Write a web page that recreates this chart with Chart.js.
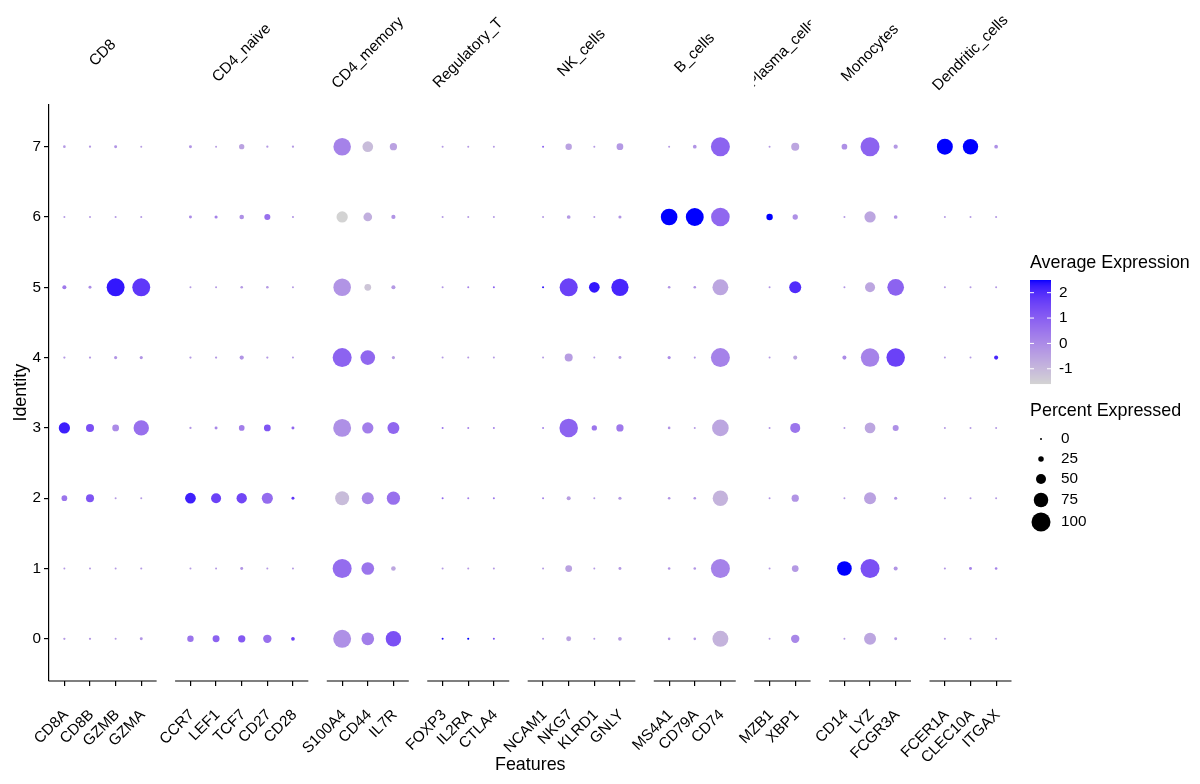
<!DOCTYPE html>
<html>
<head>
<meta charset="utf-8">
<script src="https://cdn.jsdelivr.net/npm/chart.js@4.4.1/dist/chart.umd.min.js"></script>
<style>
  html, body { margin: 0; padding: 0; background: #fff; }
  #wrap { width: 1200px; height: 784px; position: relative; }
</style>
</head>
<body>
<div id="wrap"><canvas id="dotplot"></canvas></div>
<script>
// ---- data ----
const groupNames = ["CD8", "CD4_naive", "CD4_memory", "Regulatory_T", "NK_cells", "B_cells", "Plasma_cells", "Monocytes", "Dendritic_cells"];
const groupSizes = [4, 5, 3, 3, 4, 3, 2, 3, 3];
const features = ["CD8A", "CD8B", "GZMB", "GZMA", "CCR7", "LEF1", "TCF7", "CD27", "CD28",
  "S100A4", "CD44", "IL7R", "FOXP3", "IL2RA", "CTLA4", "NCAM1", "NKG7", "KLRD1", "GNLY",
  "MS4A1", "CD79A", "CD74", "MZB1", "XBP1", "CD14", "LYZ", "FCGR3A", "FCER1A", "CLEC10A", "ITGAX"];
const identities = [0, 1, 2, 3, 4, 5, 6, 7];

// percent expressed, one array per identity (feature order as above)
const pctId0 = [7, 7, 5, 11, 30, 33, 35, 41, 15, 94, 65, 80, 5, 6, 5, 4, 22, 4, 15, 9, 9, 83, 4, 41, 5, 61, 11, 6, 5, 4];
const pctId1 = [4, 4, 5, 6, 5, 5, 11, 5, 5, 100, 65, 20, 3, 3, 3, 3, 32, 4, 11, 9, 9, 100, 4, 32, 76, 100, 17, 6, 11, 9];
const pctId2 = [26, 39, 5, 5, 54, 50, 52, 56, 11, 72, 61, 68, 5, 4, 5, 4, 17, 3, 12, 9, 9, 80, 4, 35, 4, 61, 12, 6, 5, 4];
const pctId3 = [57, 39, 32, 80, 7, 11, 26, 32, 11, 94, 57, 61, 4, 4, 4, 4, 97, 24, 35, 9, 5, 87, 5, 50, 5, 54, 28, 5, 5, 4];
const pctId4 = [7, 7, 12, 12, 7, 7, 18, 7, 4, 100, 76, 12, 3, 3, 3, 3, 39, 4, 11, 12, 6, 100, 4, 17, 17, 97, 97, 4, 4, 17];
const pctId5 = [17, 11, 94, 94, 5, 5, 9, 9, 5, 92, 32, 17, 3, 4, 5, 6, 95, 54, 90, 9, 9, 83, 5, 61, 4, 50, 87, 5, 5, 5];
const pctId6 = [4, 4, 6, 6, 11, 12, 20, 28, 6, 57, 43, 18, 3, 3, 3, 3, 15, 3, 12, 87, 94, 98, 30, 24, 5, 57, 15, 5, 4, 6];
const pctId7 = [9, 7, 11, 5, 11, 5, 24, 7, 7, 92, 54, 35, 4, 4, 4, 5, 30, 5, 32, 5, 15, 100, 5, 39, 26, 100, 18, 83, 80, 15];

// average (scaled) expression, one array per identity
const avgId0 = [-0.3, -0.3, -0.3, -0.2, 0.5, 0.9, 1.1, 0.6, 1.6, -0.1, 0.3, 1.3, 2.4, 2.5, 1.3, -0.2, -0.5, -0.3, -0.4, -0.2, -0.2, -0.9, -0.3, 0.1, -0.3, -0.6, -0.3, -0.3, -0.3, -0.3];
const avgId1 = [-0.3, -0.3, -0.3, -0.3, -0.3, -0.3, -0.2, -0.3, -0.3, 0.7, 0.5, -0.6, -0.3, -0.3, -0.3, -0.3, -0.5, -0.3, -0.3, -0.2, -0.2, 0.2, -0.3, -0.3, 2.5, 1.3, -0.2, -0.2, 0.2, 0.2];
const avgId2 = [0.5, 1.2, -0.3, -0.3, 2.2, 1.6, 1.5, 0.7, 1.8, -1.1, 0.1, 0.6, 0.8, 0.3, 0.5, 0.2, -0.4, -0.3, -0.3, -0.2, -0.2, -0.9, -0.2, -0.2, -0.3, -0.5, -0.2, -0.3, -0.3, -0.3];
const avgId3 = [2.2, 1.3, 0.0, 0.6, -0.2, 0.1, 0.3, 1.2, 0.8, -0.1, 0.3, 0.8, 0.5, 0.2, 0.2, 0.2, 0.9, 0.5, 0.4, -0.2, -0.3, -0.6, -0.2, 0.5, -0.3, -0.6, -0.1, -0.3, -0.3, -0.3];
const avgId4 = [-0.3, -0.3, -0.2, -0.2, -0.3, -0.3, -0.2, -0.3, -0.3, 0.9, 0.8, -0.4, -0.3, -0.3, -0.3, -0.3, -0.4, -0.3, -0.3, 0.0, -0.2, 0.2, -0.3, -0.6, 0.0, 0.2, 1.6, -0.3, -0.3, 2.1];
const avgId5 = [0.4, 0.0, 2.3, 1.8, -0.3, -0.3, -0.3, -0.3, -0.3, -0.2, -1.3, -0.3, -0.2, 0.2, 1.0, 2.3, 1.6, 2.3, 2.1, -0.2, -0.2, -0.6, -0.2, 2.0, -0.2, -0.6, 0.9, -0.3, -0.3, -0.3];
const avgId6 = [-0.3, -0.3, -0.3, -0.3, 0.0, 0.2, -0.1, 0.6, -0.2, -1.6, -0.8, -0.2, -0.3, -0.3, -0.3, -0.3, -0.3, -0.3, -0.2, 2.5, 2.5, 0.8, 2.5, -0.1, -0.3, -0.6, -0.2, -0.3, -0.3, -0.3];
const avgId7 = [-0.3, -0.3, -0.2, -0.4, -0.2, -0.4, -0.5, -0.3, -0.3, 0.2, -1.1, -0.5, -0.3, -0.3, -0.3, 0.9, -0.5, -0.3, -0.3, -0.3, -0.2, 0.9, -0.3, -0.6, -0.1, 0.9, -0.3, 2.5, 2.5, -0.1];

const pctByIdent = [pctId0, pctId1, pctId2, pctId3, pctId4, pctId5, pctId6, pctId7];
const avgByIdent = [avgId0, avgId1, avgId2, avgId3, avgId4, avgId5, avgId6, avgId7];

const expBreaks = [-1, 0, 1, 2];
const pctBreaks = [0, 25, 50, 75, 100];
const EXP_MIN = -1.6, EXP_MAX = 2.5;

// ---- layout constants ----
const FONT = "'Liberation Sans', Arial, Helvetica, sans-serif";
const PAD = 0.6;        // discrete expansion inside a facet panel
const GROUP_GAP = 0.92; // extra distance between panels (x units)

// x position of each feature, panels separated by a gap
const xPos = [];
const panels = [];
{
  let x = 0;
  groupSizes.forEach(n => {
    const first = x;
    for (let k = 0; k < n; k++) { xPos.push(x); x++; }
    panels.push({ from: first - PAD, to: x - 1 + PAD });
    x += GROUP_GAP;
  });
}

// ---- lightgrey -> blue gradient in Lab, like ggplot ----
function toLin(c) { c /= 255; return c <= 0.04045 ? c / 12.92 : Math.pow((c + 0.055) / 1.055, 2.4); }
function fromLin(c) { const v = c <= 0.0031308 ? 12.92 * c : 1.055 * Math.pow(c, 1 / 2.4) - 0.055; return Math.round(Math.min(1, Math.max(0, v)) * 255); }
function rgb2lab(rgb) {
  const [r, g, b] = rgb.map(toLin);
  const X = (0.4124 * r + 0.3576 * g + 0.1805 * b) / 0.95047;
  const Y = (0.2126 * r + 0.7152 * g + 0.0722 * b);
  const Z = (0.0193 * r + 0.1192 * g + 0.9505 * b) / 1.08883;
  const f = t => t > 0.008856 ? Math.cbrt(t) : 7.787 * t + 16 / 116;
  const fx = f(X), fy = f(Y), fz = f(Z);
  return [116 * fy - 16, 500 * (fx - fy), 200 * (fy - fz)];
}
function lab2rgb([L, a, b]) {
  const fy = (L + 16) / 116, fx = fy + a / 500, fz = fy - b / 200;
  const inv = t => t ** 3 > 0.008856 ? t ** 3 : (t - 16 / 116) / 7.787;
  const X = inv(fx) * 0.95047, Y = inv(fy), Z = inv(fz) * 1.08883;
  const r = 3.2406 * X - 1.5372 * Y - 0.4986 * Z;
  const g = -0.9689 * X + 1.8758 * Y + 0.0415 * Z;
  const bb = 0.0557 * X - 0.2040 * Y + 1.0570 * Z;
  return [fromLin(r), fromLin(g), fromLin(bb)];
}
const LAB_LOW = rgb2lab([211, 211, 211]);
const LAB_HIGH = rgb2lab([0, 0, 255]);
function expColor(v) {
  const t = Math.min(1, Math.max(0, (v - EXP_MIN) / (EXP_MAX - EXP_MIN)));
  const lab = LAB_LOW.map((c, k) => c + (LAB_HIGH[k] - c) * t);
  const [r, g, b] = lab2rgb(lab);
  return `rgb(${r},${g},${b})`;
}
// scale_radius(range = c(0, 6)) -> pixel radius
function pctRadius(p) { return Math.max(1.0, (0.945 + 17.07 * p / 100) * 1.055 / 2); }

// ---- points ----
const points = [];
identities.forEach((id, r) => {
  features.forEach((f, i) => {
    points.push({ x: xPos[i], y: id, pct: pctByIdent[r][i], avg: avgByIdent[r][i] });
  });
});

const facetPlugin = {
  id: "facets",
  afterDraw(chart) {
    const ctx = chart.ctx, xs = chart.scales.x, area = chart.chartArea;
    ctx.save();
    panels.forEach((p, g) => {
      const l = xs.getPixelForValue(p.from), r = xs.getPixelForValue(p.to);
      ctx.strokeStyle = "#000";
      ctx.lineWidth = 1.2;
      ctx.beginPath(); ctx.moveTo(l, area.bottom); ctx.lineTo(r, area.bottom); ctx.stroke();
      // strip text, clipped to its panel
      ctx.save();
      ctx.beginPath(); ctx.rect(l, 0, r - l, area.top - 2); ctx.clip();
      ctx.translate((l + r) / 2, 53);
      ctx.rotate(-Math.PI / 4);
      ctx.font = `15.3px ${FONT}`;
      ctx.fillStyle = "#000";
      ctx.textAlign = "center"; ctx.textBaseline = "middle";
      ctx.fillText(groupNames[g], 0, 0);
      ctx.restore();
    });

    // colour bar legend
    const lx = 1030;
    ctx.fillStyle = "#000";
    ctx.textAlign = "left"; ctx.textBaseline = "middle";
    ctx.font = `17.9px ${FONT}`;
    ctx.fillText("Average Expression", lx, 263);
    const barTop = 280, barH = 104, barW = 21;
    const valToY = v => barTop + (EXP_MAX - v) / (EXP_MAX - EXP_MIN) * barH;
    for (let y = 0; y < barH; y++) {
      ctx.fillStyle = expColor(EXP_MAX - (y + 0.5) / barH * (EXP_MAX - EXP_MIN));
      ctx.fillRect(lx, barTop + y, barW, 1.05);
    }
    ctx.strokeStyle = "#fff";
    ctx.lineWidth = 1;
    ctx.font = `15.3px ${FONT}`;
    expBreaks.forEach(v => {
      const y = valToY(v);
      ctx.beginPath();
      ctx.moveTo(lx, y); ctx.lineTo(lx + 4, y);
      ctx.moveTo(lx + barW - 4, y); ctx.lineTo(lx + barW, y);
      ctx.stroke();
      ctx.fillStyle = "#000";
      ctx.fillText(String(v), lx + 29, y);
    });

    // size legend
    ctx.font = `17.9px ${FONT}`;
    ctx.fillText("Percent Expressed", lx, 411);
    const keyY = [439, 459, 479, 500, 522];
    ctx.font = `15.3px ${FONT}`;
    pctBreaks.forEach((p, k) => {
      ctx.fillStyle = "#000";
      ctx.beginPath();
      ctx.arc(lx + 11, keyY[k], pctRadius(p), 0, Math.PI * 2);
      ctx.fill();
      ctx.fillText(String(p), lx + 31, keyY[k]);
    });
    ctx.restore();
  }
};

Chart.defaults.font.family = FONT;
Chart.defaults.color = "#000";

new Chart(document.getElementById("dotplot"), {
  type: "scatter",
  data: {
    datasets: [{
      data: points,
      pointStyle: "circle",
      borderWidth: 0,
      pointRadius: c => pctRadius(c.raw.pct),
      pointHoverRadius: c => pctRadius(c.raw.pct),
      backgroundColor: c => expColor(c.raw.avg),
      clip: false
    }]
  },
  options: {
    responsive: true,
    maintainAspectRatio: false,
    animation: false,
    layout: { padding: { top: 104.5, right: 188.5, left: 0, bottom: 0 } },
    plugins: { legend: { display: false }, tooltip: { enabled: false } },
    scales: {
      x: {
        type: "linear",
        min: panels[0].from,
        max: panels[panels.length - 1].to,
        afterBuildTicks: s => { s.ticks = xPos.map(v => ({ value: v })); },
        afterFit: s => { s.height = 103; },
        border: { display: false },
        grid: { drawOnChartArea: false, drawTicks: true, tickLength: 5, color: "#000", lineWidth: 1.2 },
        ticks: {
          autoSkip: false,
          maxRotation: 45, minRotation: 45,
          padding: 20,
          labelOffset: 1.5,
          font: { size: 15.3 },
          callback: (v, i) => features[i]
        },
        title: { display: true, text: "Features", font: { size: 17.9 }, padding: { top: 0, bottom: 8 } }
      },
      y: {
        type: "linear",
        min: -0.6, max: 7.6,
        afterBuildTicks: s => { s.ticks = identities.map(v => ({ value: v })); },
        afterFit: s => { s.width = 49; },
        border: { display: true, color: "#000", width: 1.2 },
        grid: { drawOnChartArea: false, drawTicks: true, tickLength: 5, color: "#000", lineWidth: 1.2 },
        ticks: { padding: 3, font: { size: 15.3 }, callback: v => String(v) },
        title: { display: true, text: "Identity", font: { size: 17.9 }, padding: { top: 10, bottom: 0 } }
      }
    }
  },
  plugins: [facetPlugin]
});
</script>
</body>
</html>
